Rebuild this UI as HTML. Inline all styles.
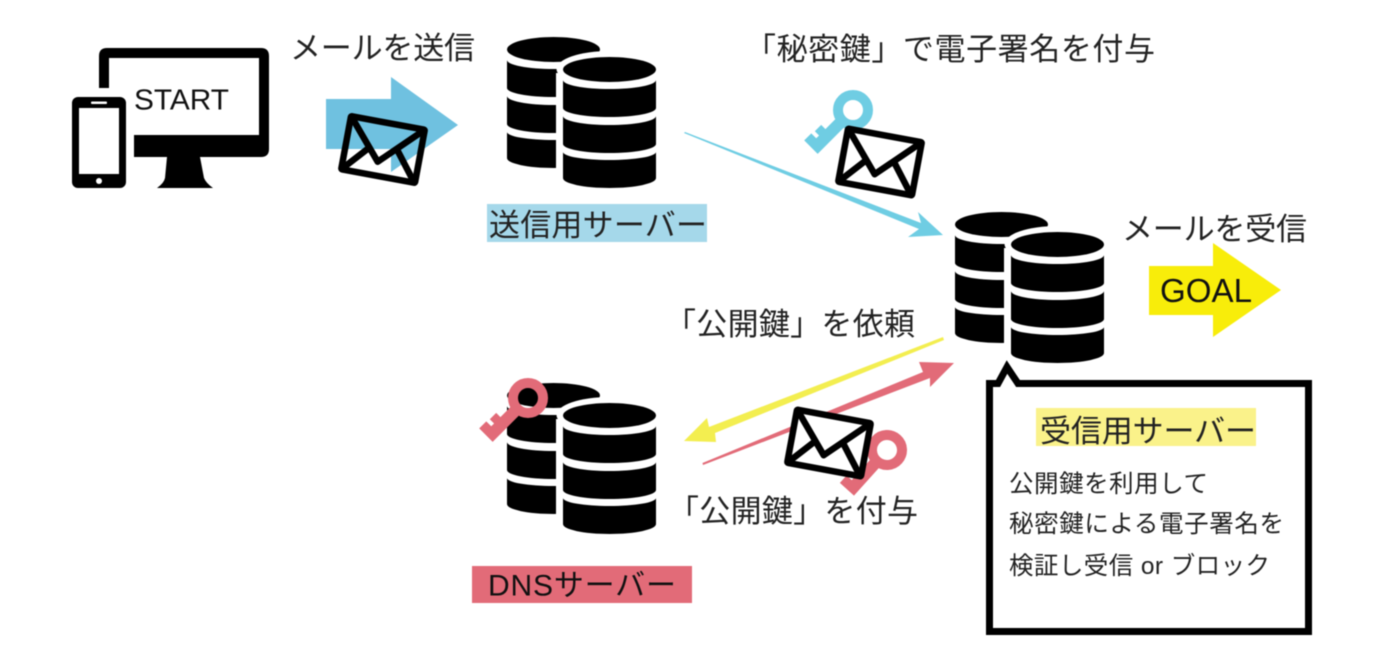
<!DOCTYPE html>
<html><head><meta charset="utf-8"><style>
html,body{margin:0;padding:0;background:#fff;width:1392px;height:672px;overflow:hidden}
svg{display:block;filter:blur(.4px)}
text{font-family:"Liberation Sans","Noto Sans CJK JP",sans-serif;fill:#222}
</style></head><body>
<svg width="1392" height="672" viewBox="0 0 1392 672" xmlns="http://www.w3.org/2000/svg">
<defs>
<g id="cyl">
<ellipse cx="46.5" cy="12.5" rx="46.5" ry="12.5"/>
<path d="M0 23A46.5 9 0 0 0 93 23V51A46.5 9 0 0 1 0 51Z"/>
<path d="M0 59A46.5 9 0 0 0 93 59V87A46.5 9 0 0 1 0 87Z"/>
<path d="M0 95A46.5 8 0 0 0 93 95V121A46.5 10 0 0 1 0 121Z"/>
</g>
<g id="server">
<use href="#cyl"/>
<rect x="49" y="36" width="55" height="103" fill="#fff"/>
<ellipse cx="102.500" cy="32" rx="53" ry="18" fill="#fff"/>
<use href="#cyl" x="56" y="20"/>
</g>
<g id="env" fill="none" stroke="#000" stroke-width="6.500" stroke-linejoin="round" stroke-linecap="round">
<rect x="-37.500" y="-27" width="75" height="54" rx="1"/>
<path d="M-36.500 -26L-3 13L36.500 -26M-36.500 26L-15 2M15 -1L36 26"/>
</g>
<g id="key">
<circle cx="0" cy="0" r="15" fill="none" stroke-width="10"/>
<path stroke="none" d="M-6 17H6V56H-13V46H-6V42H-12V33H-6Z"/>
</g>
</defs>

<!-- devices -->
<path d="M99 88V56Q99 48 107 48H261Q269 48 269 56V149Q269 157 261 157H134V135H259V58H109V88Z"/>
<path d="M167 157H200L204 178Q206 183 213 188H157Q164 183 165 178Z"/>
<rect x="72" y="97" width="54" height="91" rx="6"/>
<rect x="79" y="108" width="40" height="66" fill="#fff"/>
<rect x="91" y="101.500" width="16" height="2.500" rx="1" fill="#fff"/>
<circle cx="99" cy="181" r="3" fill="#fff"/>
<text x="134" y="109.500" font-size="29" textLength="95" lengthAdjust="spacingAndGlyphs" style="fill:#111">START</text>

<!-- blue big arrow -->
<path d="M326 99H391V77L458 125L391 172V149H326Z" fill="#6fc1e0"/>
<use href="#env" transform="translate(383 149.500) rotate(10.500)"/>
<text x="290" y="59" font-size="31" textLength="185">メールを送信</text>

<!-- servers -->
<use href="#server" x="507" y="37"/>
<rect x="487" y="204" width="220" height="38" fill="#a5d8ea"/>
<text x="489" y="236" font-size="31" textLength="218">送信用サーバー</text>

<text x="745" y="60" font-size="31" textLength="410">「秘密鍵」で電子署名を付与</text>

<!-- blue key + envelope -->
<use href="#key" fill="#6fcde3" stroke="#6fcde3" transform="translate(853 110) rotate(45)"/>
<g transform="translate(880 162) rotate(10.500)"><rect x="-38" y="-27" width="76" height="54" fill="#fff"/><use href="#env"/></g>

<!-- blue thin arrow -->
<path d="M684 133L685 132L921 223L918 212L943 235L908 237L919 229Z" fill="#6fcde3"/>

<use href="#server" x="955" y="212"/>
<text x="1122" y="240" font-size="31" textLength="185">メールを受信</text>
<path d="M1149 266H1213V243L1281 290L1213 337V315H1149Z" fill="#f8ed0a"/>
<text x="1160" y="302" font-size="33" textLength="92" lengthAdjust="spacingAndGlyphs" style="fill:#111">GOAL</text>

<!-- yellow + pink arrows -->
<text x="665" y="335" font-size="31" textLength="250">「公開鍵」を依頼</text>
<path d="M943 337L944 340L715 433L716 442L684 441L707 418L709 427Z" fill="#f3ee50"/>
<path d="M703 465L702.500 463L923 372L919 362L954 363L930 387L930 378Z" fill="#e26b78"/>

<!-- DNS -->
<use href="#server" x="507" y="383"/>
<use href="#key" fill="#e26b78" stroke="#e26b78" transform="translate(528 398) rotate(45)"/>
<rect x="472" y="566" width="220" height="37" fill="#e26b78"/>
<text x="488" y="595.500" font-size="30" textLength="188" style="fill:#111">DNSサーバー</text>

<use href="#key" fill="#e26b78" stroke="#e26b78" transform="translate(887 450) rotate(42)"/>
<g transform="translate(829 443) rotate(10.500)"><rect x="-38" y="-27" width="76" height="54" fill="#fff"/><use href="#env"/></g>
<text x="668" y="522" font-size="31" textLength="250">「公開鍵」を付与</text>

<!-- callout -->
<path d="M989.500 383.500H998L1007 367L1018 383.500H1308.500V631.500H989.500Z" fill="#fff" stroke="#000" stroke-width="7" stroke-miterlimit="8"/>
<rect x="1036" y="408" width="220" height="38" fill="#faf28a"/>
<text x="1040" y="442" font-size="31" textLength="216">受信用サーバー</text>
<text x="1009" y="492" font-size="24.500" textLength="199">公開鍵を利用して</text>
<text x="1009" y="532" font-size="24.500" textLength="275">秘密鍵による電子署名を</text>
<text x="1009" y="574" font-size="24.500" textLength="261">検証し受信 or ブロック</text>
</svg>
</body></html>
